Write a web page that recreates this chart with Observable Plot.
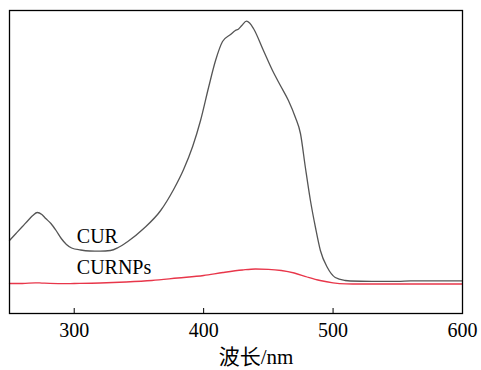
<!DOCTYPE html>
<html>
<head>
<meta charset="utf-8">
<script src="https://cdn.jsdelivr.net/npm/d3@7"></script>
<script src="https://cdn.jsdelivr.net/npm/@observablehq/plot@0.6"></script>
<style>
  html, body { margin: 0; padding: 0; background: #fff; }
  svg { display: block; }
  svg, svg text { font-family: "Liberation Serif", "Times New Roman", Times, "DejaVu Serif", serif, "Noto Sans CJK SC" !important; }
</style>
</head>
<body>
<div id="chart"></div>
<script>
// Wavelength (nm) and absorbance readings
const curWavelength = [250, 255, 260, 265, 268, 271.5, 275, 278, 282, 286, 290, 294, 298, 305, 312, 320, 328, 334, 341.4, 353.7, 366.8, 376.8, 384.5, 391.5, 397.6, 403.8, 409.2, 414.6, 420.8, 424.5, 427, 429.5, 433.1, 435.5, 438.5, 446.2, 453.2, 459.3, 465.5, 470.9, 474.8, 478.6, 482.5, 486.4, 490.2, 495.6, 501.7, 509.4, 513.3, 530, 550, 560, 580, 600];
const curAbsorbance = [0.73, 0.80, 0.87, 0.94, 0.98, 1.01, 0.99, 0.95, 0.90, 0.83, 0.75, 0.69, 0.655, 0.635, 0.625, 0.623, 0.63, 0.66, 0.72, 0.85, 1.03, 1.24, 1.44, 1.67, 1.93, 2.26, 2.53, 2.72, 2.79, 2.83, 2.845, 2.88, 2.923, 2.905, 2.85, 2.63, 2.43, 2.28, 2.13, 1.96, 1.80, 1.46, 1.13, 0.86, 0.63, 0.46, 0.36, 0.33, 0.325, 0.322, 0.322, 0.326, 0.326, 0.326];

const npWavelength = [250, 260, 270, 275, 290, 300, 320, 340, 360, 380, 400, 415, 430, 440, 450, 460, 470, 480, 490, 500, 510, 520, 560, 600];
const npAbsorbance = [0.30, 0.30, 0.307, 0.304, 0.298, 0.30, 0.305, 0.315, 0.33, 0.355, 0.38, 0.41, 0.435, 0.445, 0.442, 0.43, 0.405, 0.365, 0.33, 0.307, 0.297, 0.295, 0.295, 0.295];

const xTicks = [300, 400, 500, 600];
const seriesNames = ["CUR", "CURNPs"];
const labelWavelength = [302, 302];
const labelAbsorbance = [0.77, 0.46];
const xLabel = "波长/nm";

const cur = curWavelength.map((x, i) => ({x, y: curAbsorbance[i]}));
const np = npWavelength.map((x, i) => ({x, y: npAbsorbance[i]}));
const labels = seriesNames.map((t, i) => ({t, x: labelWavelength[i], y: labelAbsorbance[i]}));

const serif = "'Liberation Serif', 'Times New Roman', Times, 'DejaVu Serif', serif, 'Noto Sans CJK SC'";

const chart = Plot.plot({
  width: 481,
  height: 370,
  marginLeft: 9,
  marginRight: 19,
  marginTop: 10,
  marginBottom: 57,
  style: {background: "#fff", color: "#000"},
  x: {domain: [250, 600]},
  y: {domain: [0, 3.03], axis: null},
  marks: [
    Plot.line(np, {x: "x", y: "y", stroke: "#e8364a", strokeWidth: 1.3, curve: "monotone-x"}),
    Plot.line(cur, {x: "x", y: "y", stroke: "#555555", strokeWidth: 1.3, curve: "monotone-x"}),
    Plot.text(labels, {x: "x", y: "y", text: "t", textAnchor: "start", lineAnchor: "middle", fontSize: 20, fontFamily: serif, fill: "#000"}),
    Plot.axisX({ticks: xTicks, tickSize: 0, tickPadding: 9, fontSize: 20, fontFamily: serif, label: null, tickFormat: d => String(d)}),
    Plot.tickX(xTicks, {x: d => d, insetTop: 298, stroke: "#000", strokeWidth: 1}),
    Plot.frame({stroke: "#000", strokeWidth: 1.3}),
    Plot.text([xLabel], {frameAnchor: "bottom", dy: 44, dx: 20, lineAnchor: "middle", fontSize: 21, fontFamily: serif, fill: "#000"})
  ]
});
document.getElementById("chart").appendChild(chart);
</script>
</body>
</html>
